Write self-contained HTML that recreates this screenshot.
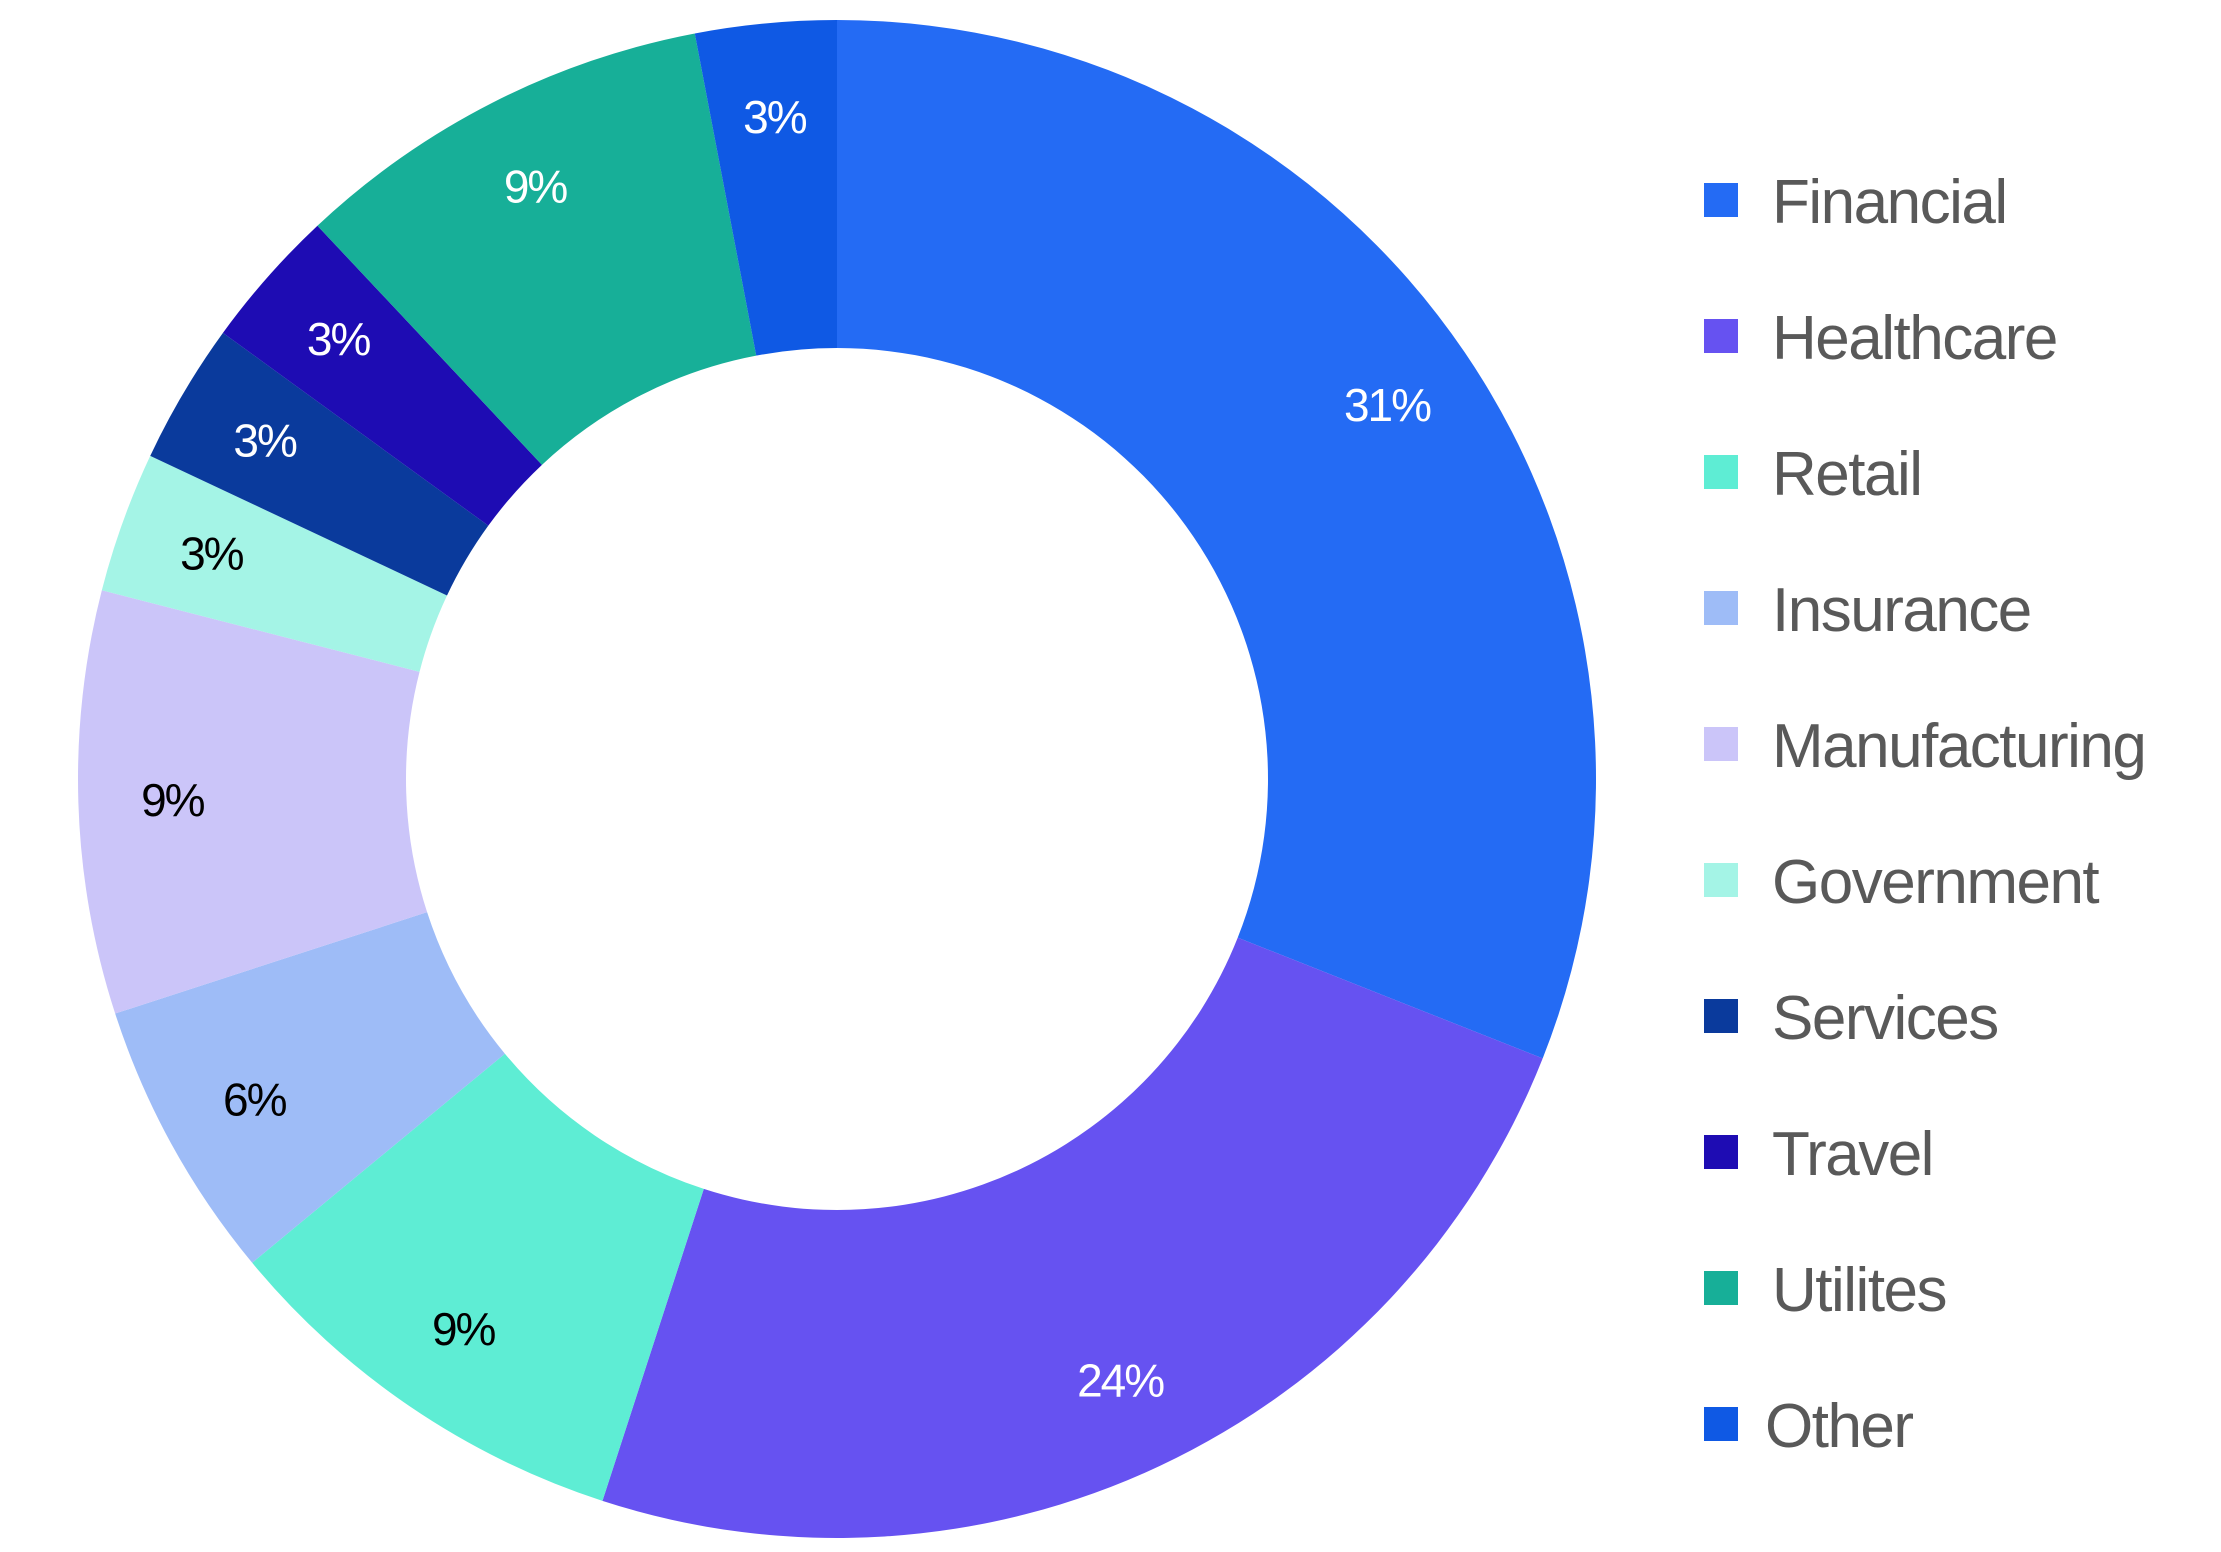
<!DOCTYPE html>
<html><head><meta charset="utf-8"><style>
html,body{margin:0;padding:0;background:#fff;}
svg{display:block;}
</style></head><body>
<svg id="chart" width="2221" height="1552" viewBox="0 0 2221 1552" xmlns="http://www.w3.org/2000/svg">
<g id="slices"></g>
<g id="labels"></g>
<g id="legend"></g>
</svg>
<script>
const categories = ["Financial","Healthcare","Retail","Insurance","Manufacturing","Government","Services","Travel","Utilites","Other"];
const values = [31,24,9,6,9,3,3,3,9,3];
const valueLabels = ["31%","24%","9%","6%","9%","3%","3%","3%","9%","3%"];
const colors = ["#246BF4","#6652F1","#5EEDD4","#9EBCF7","#CBC5F9","#A4F4E6","#0A3A9C","#1E0CB3","#17AF98","#0F59E4"];
const labelColors = ["#fff","#fff","#000","#000","#000","#000","#fff","#fff","#fff","#fff"];

const NS="http://www.w3.org/2000/svg";
const cx=837, cy=779, R=759, r=431, rl=665;
const total=values.reduce((a,b)=>a+b,0);
function pt(rad, frac){const a=frac*2*Math.PI;return [cx+rad*Math.sin(a), cy-rad*Math.cos(a)];}
const gS=document.getElementById('slices'), gL=document.getElementById('labels'), gG=document.getElementById('legend');
let acc=0;
values.forEach((v,i)=>{
  const f0=acc/total, f1=(acc+v)/total; acc+=v;
  const large=(f1-f0)>0.5?1:0;
  const [x0,y0]=pt(R,f0),[x1,y1]=pt(R,f1),[x2,y2]=pt(r,f1),[x3,y3]=pt(r,f0);
  const p=document.createElementNS(NS,'path');
  p.setAttribute('d',`M${x0},${y0}A${R},${R} 0 ${large} 1 ${x1},${y1}L${x2},${y2}A${r},${r} 0 ${large} 0 ${x3},${y3}Z`);
  p.setAttribute('fill',colors[i]);
  
  
  gS.appendChild(p);
  const [lx,ly]=pt(rl,(f0+f1)/2);
  const t=document.createElementNS(NS,'text');
  t.setAttribute('x',lx);t.setAttribute('y',ly+16);
  t.setAttribute('text-anchor','middle');
  t.setAttribute('font-family','Liberation Sans, sans-serif');
  t.setAttribute('font-size','46');t.setAttribute('letter-spacing','-2');
  t.setAttribute('fill',labelColors[i]);
  t.textContent=valueLabels[i];
  
  
  gL.appendChild(t);
  const yc=200+136*i;
  const g=document.createElementNS(NS,'g');
  
  
  const sq=document.createElementNS(NS,'rect');
  sq.setAttribute('x',1704);sq.setAttribute('y',yc-17);sq.setAttribute('width',34);sq.setAttribute('height',34);
  sq.setAttribute('fill',colors[i]);
  
  
  g.appendChild(sq);
  const lt=document.createElementNS(NS,'text');
  lt.setAttribute('x',i===9?1765:1772);lt.setAttribute('y',yc+23);
  lt.setAttribute('font-family','Liberation Sans, sans-serif');
  lt.setAttribute('font-size','62');lt.setAttribute('letter-spacing','-1.5');
  lt.setAttribute('fill','#595959');
  lt.textContent=categories[i];
  
  
  g.appendChild(lt);
  gG.appendChild(g);
});
</script>
</body></html>
